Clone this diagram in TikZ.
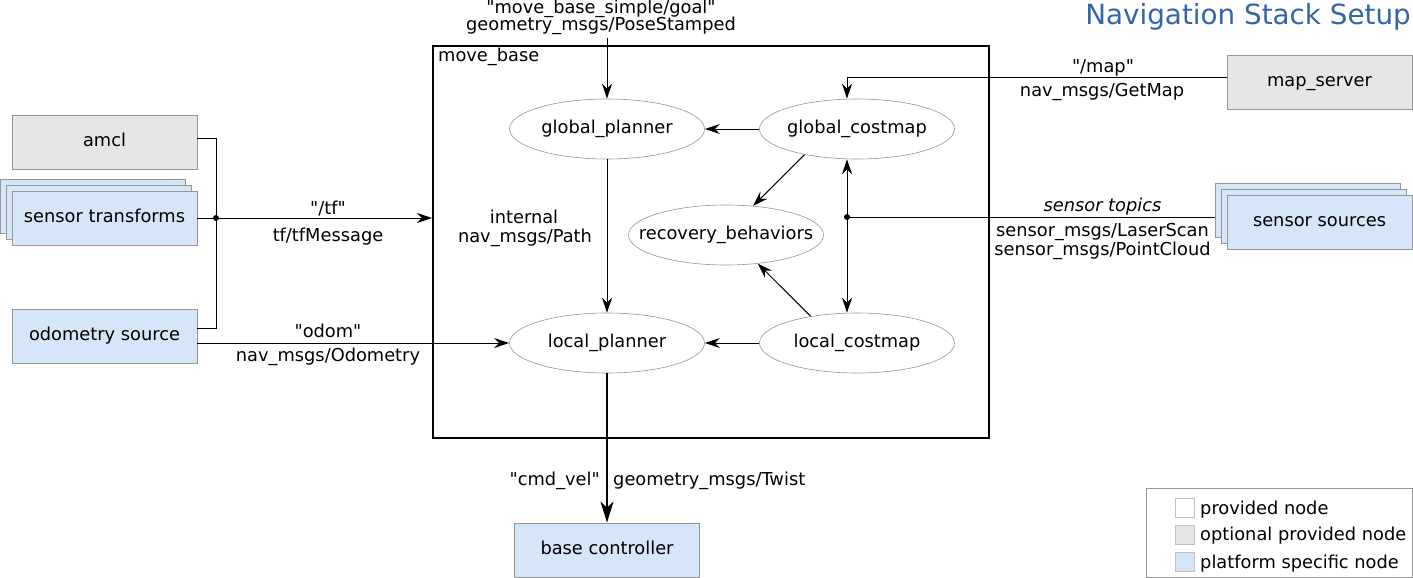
\documentclass[tikz,border=0pt]{standalone}
\usepackage{fontspec}
\setmainfont{DejaVu Sans}[Ligatures=TeXOff]
\usetikzlibrary{shapes.geometric,arrows.meta}
\definecolor{optgray}{RGB}{230,230,230}
\definecolor{platblue}{RGB}{213,230,248}
\definecolor{bordergray}{RGB}{150,150,150}
\definecolor{titleblue}{RGB}{52,101,164}
\newcommand\ellabel[1]{\makebox[0pt]{\rule[-4.5pt]{0pt}{13pt}#1}}
\begin{document}
\begin{tikzpicture}[x=1pt,y=-1pt, font=\fontsize{17.8}{21}\selectfont,
 box/.style={draw=bordergray, line width=0.8pt, minimum width=185pt, minimum height=54pt, inner sep=0pt, text height=13pt, text depth=4.5pt},
 optbox/.style={box, fill=optgray},
 platbox/.style={box, fill=platblue},
 proc/.style={ellipse, draw=bordergray, line width=0.6pt, minimum width=195pt, minimum height=60pt, inner sep=0pt},
 lbl/.style={inner sep=0pt, text height=12pt, text depth=5pt, yshift=-1.5pt},
 conn/.style={line width=1pt},
 arr/.style={conn, -{Stealth[length=15pt,width=10pt,inset=5pt]}},
 bigarr/.style={line width=1.5pt, -{Stealth[length=21pt,width=13pt,inset=6pt]}},
 legkey/.style={draw=bordergray!60, line width=0.8pt, minimum size=19pt, inner sep=0pt},
]
\useasboundingbox[fill=white] (0,0) rectangle (1413,578);

% title
\node[anchor=east, text=titleblue, font=\fontsize{27.8}{32}\selectfont, inner sep=0pt] (title) at (1411,17) {Navigation Stack Setup};

% left nodes
\node[optbox] (amcl) at (104.5,142) {amcl};
\node[platbox] (st3) at (92.5,206) {};
\node[platbox] (st2) at (98.5,212) {};
\node[platbox] (st) at (104.5,218) {sensor transforms};
\node[platbox] (odo) at (104.5,336.5) {odometry source};

% move_base
\node[draw, line width=2pt, minimum width=556pt, minimum height=392pt, inner sep=0pt] (mb) at (711,242) {};
\node[lbl, anchor=west] (mbl) at (438,57) {move\_base};

\node[proc] (gp) at (607,129) {\ellabel{global\_planner}};
\node[proc] (gc) at (857,129) {\ellabel{global\_costmap}};
\node[proc] (rb) at (726,235) {\ellabel{recovery\_behaviors}};
\node[proc] (lp) at (607,343) {\ellabel{local\_planner}};
\node[proc] (lc) at (857,343) {\ellabel{local\_costmap}};

% right nodes
\node[optbox] (ms) at (1319.5,82.5) {map\_server};
\node[platbox] (ss3) at (1307.5,210) {};
\node[platbox] (ss2) at (1313.5,216) {};
\node[platbox] (ss) at (1319.5,222) {sensor sources};

% base controller
\node[platbox] (bc) at (607,550) {base controller};

% internal arrows
\draw[arr] (gc.west) -- (gp.east);
\draw[arr] (gc.206) -- (rb.47);
\draw[arr] (lc.150) -- (rb.-42);
\draw[arr] (lc.west) -- (lp.east);
\draw[arr] (gp.south) -- (lp.north);
\node[lbl] (intl) at (524,218) {internal};
\node[lbl] (intp) at (525,237) {nav\_msgs/Path};

% goal
\coordinate (goal) at (607,38);
\draw[arr] (goal) -- (gp.north);
\node[lbl] (goal1) at (601,9) {"move\_base\_simple/goal"};
\node[lbl] (goal2) at (601,26) {geometry\_msgs/PoseStamped};

% cmd_vel
\draw[bigarr] (lp.south) -- (bc.north);
\node[lbl, anchor=east] (cv1) at (600,480) {"cmd\_vel"};
\node[lbl, anchor=west] (cv2) at (613,480) {geometry\_msgs/Twist};

% tf
\coordinate (tj) at (216,218);
\coordinate (ta) at (216,138.3);
\coordinate (tb) at (216,328);
\draw[conn] ([yshift=3.7pt]amcl.east) -- (ta) -- (tb) -- ([yshift=8.5pt]odo.east);
\draw[arr] (st.east) -- (st.east -| mb.west);
\fill (tj) circle (3pt);
\node[lbl] (tf1) at (328,209) {"/tf"};
\node[lbl] (tf2) at (328,236) {tf/tfMessage};

% odom
\draw[arr] (odo.east |- lp.west) -- (lp.west);
\node[lbl] (od1) at (328,332) {"odom"};
\node[lbl] (od2) at (328,356) {nav\_msgs/Odometry};

% map
\draw[arr] ([yshift=5.5pt]ms.west) -| ([xshift=-10pt]gc.north);
\node[lbl] (mp1) at (1103,68) {"/map"};
\node[lbl] (mp2) at (1102,91) {nav\_msgs/GetMap};

% sensors
\coordinate (sj) at (847,217);
\draw[conn] (sj -| ss3.west) -- (sj);
\draw[arr] (sj) -- (gc.south -| sj);
\draw[arr] (sj) -- (lc.north -| sj);
\fill (sj) circle (3pt);
\node[lbl, font=\fontsize{17.8}{21}\selectfont\itshape] (sn1) at (1102.5,206) {sensor topics};
\node[lbl] (sn2) at (1102.5,231) {sensor\_msgs/LaserScan};
\node[lbl] (sn3) at (1102.5,250) {sensor\_msgs/PointCloud};

% legend
\node[draw=bordergray, line width=0.8pt, minimum width=266pt, minimum height=89pt, inner sep=0pt] (leg) at (1279,532.5) {};
\node[legkey, fill=white] (lk1) at (1184.5,508) {};
\node[legkey, fill=optgray] (lk2) at (1184.5,535) {};
\node[legkey, fill=platblue] (lk3) at (1184.5,562) {};
\node[lbl, anchor=west] (lt1) at (1200,509) {provided node};
\node[lbl, anchor=west] (lt2) at (1200,535) {optional provided node};
\node[lbl, anchor=west] (lt3) at (1200,563) {platform specific node};
\end{tikzpicture}
\end{document}
